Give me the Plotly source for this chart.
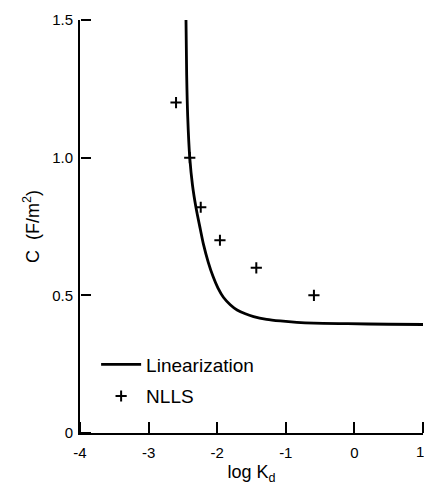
import plotly.graph_objects as go

# Linearization curve
lin_x = [-2.455, -2.445, -2.43, -2.40, -2.36, -2.31, -2.25, -2.20, -2.13, -2.06, -1.99, -1.91, -1.81, -1.71, -1.59, -1.47, -1.28, -1.08, -0.84, -0.59, -0.10, 0.5, 1.0]
lin_y = [1.50, 1.30, 1.15, 1.00, 0.90, 0.82, 0.745, 0.685, 0.62, 0.568, 0.527, 0.493, 0.466, 0.447, 0.433, 0.423, 0.413, 0.407, 0.402, 0.399, 0.397, 0.395, 0.394]

# NLLS points
nlls_x = [-2.60, -2.40, -2.24, -1.96, -1.43, -0.59]
nlls_y = [1.20, 1.00, 0.82, 0.70, 0.60, 0.50]

x_range = [-4, 1]
y_range = [0, 1.5]
x_ticks = [-4, -3, -2, -1, 0, 1]
x_ticktext = ["-4", "-3", "-2", "-1", "0", ""]
x_last_label = "1"
y_ticks = [0, 0.5, 1.0, 1.5]
y_ticktext = ["0", "0.5", "1.0", "1.5"]

FONT = "Liberation Sans"

fig = go.Figure()
fig.add_trace(go.Scatter(
    x=lin_x, y=lin_y, mode="lines", name="Linearization",
    line=dict(color="black", width=2.8, shape="spline", smoothing=0.8),
    legendgroup="a",
))
fig.add_trace(go.Scatter(
    x=nlls_x, y=nlls_y, mode="markers", name="NLLS",
    marker=dict(symbol="cross-thin", size=8, color="black",
                line=dict(color="black", width=2)),
    legendgroup="b",
))
# helper trace so the tick-only overlay axes (inward ticks) are drawn
fig.add_trace(go.Scatter(
    x=nlls_x, y=nlls_y, xaxis="x2", yaxis="y2", mode="markers",
    marker=dict(opacity=0), showlegend=False, hoverinfo="skip",
))

fig.add_annotation(
    x=x_ticks[-1], y=0, xref="x", yref="y", text=x_last_label,
    showarrow=False, xanchor="right", yanchor="top", yshift=-8, xshift=3,
    font=dict(size=15, family=FONT, color="black"),
)

fig.update_layout(
    width=424, height=485,
    margin=dict(l=80, r=1, t=20, b=52, autoexpand=False),
    paper_bgcolor="white", plot_bgcolor="white",
    font=dict(family=FONT, size=15, color="black"),
    showlegend=True,
    legend=dict(x=0.047, y=0.212, xanchor="left", yanchor="top",
                xref="paper", yref="paper",
                traceorder="grouped", tracegroupgap=4, itemwidth=40,
                font=dict(size=19, family=FONT), bgcolor="rgba(0,0,0,0)"),
    xaxis=dict(
        range=x_range, tickvals=x_ticks, ticktext=x_ticktext,
        showline=True, linecolor="black", linewidth=2,
        ticks="", showgrid=False, zeroline=False,
        ticklabelstandoff=5,
        title=dict(text="log K<sub>d</sub>", font=dict(size=18), standoff=7),
        tickfont=dict(size=15),
    ),
    yaxis=dict(
        range=y_range, tickvals=y_ticks, ticktext=y_ticktext,
        showline=True, linecolor="black", linewidth=2,
        ticks="", showgrid=False, zeroline=False,
        ticklabelstandoff=2,
        title=dict(text="C  (F/m<sup>2</sup>)", font=dict(size=18), standoff=8),
        tickfont=dict(size=15),
    ),
    xaxis2=dict(
        range=x_range, tickvals=x_ticks, overlaying="x", side="top",
        anchor="free", position=0, showticklabels=False, showline=False,
        ticks="outside", ticklen=11, tickwidth=2, tickcolor="black",
        showgrid=False, zeroline=False,
    ),
    yaxis2=dict(
        range=y_range, tickvals=y_ticks, overlaying="y", side="right",
        anchor="free", position=0, showticklabels=False, showline=False,
        ticks="outside", ticklen=10, tickwidth=2, tickcolor="black",
        showgrid=False, zeroline=False,
    ),
)

fig.write_html("out.html")
